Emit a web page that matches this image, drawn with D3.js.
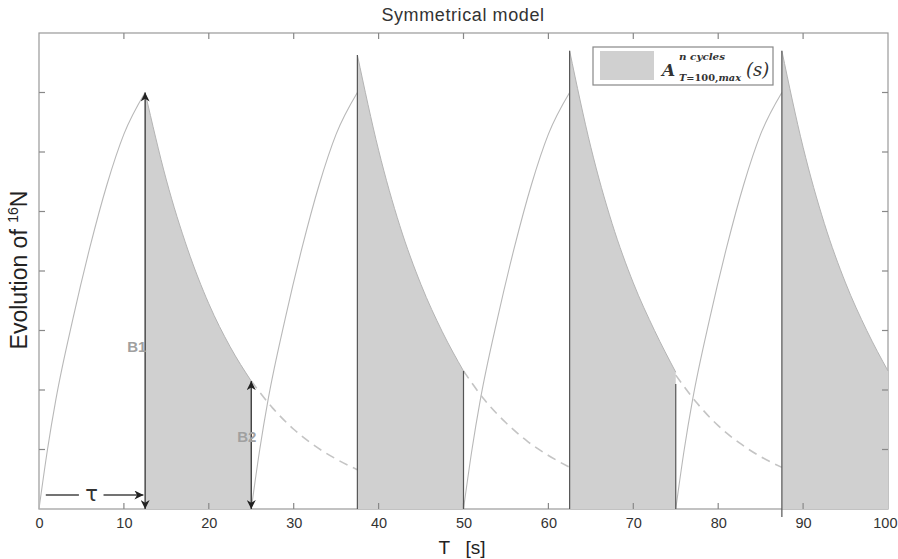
<!DOCTYPE html>
<html>
<head>
<meta charset="utf-8">
<script src="https://cdn.jsdelivr.net/npm/d3@7"></script>
<style>
  html, body { margin: 0; padding: 0; background: #fff; }
  svg { display: block; }
</style>
</head>
<body>
<svg id="chart" width="898" height="559"></svg>
<script>
// Axis ticks
const xTicks = [0, 10, 20, 30, 40, 50, 60, 70, 80, 90, 100];
const yTicks = [1, 2, 3, 4, 5, 6, 7];

// Cycle timing [s]
const cycleStarts = [0, 25, 50, 75];        // start of each irradiation phase
const decayStarts = [12.5, 37.5, 62.5, 87.5]; // start of each decay phase

// Irradiation (build-up) phase, time from cycle start
const chargeT = [0, 1, 2, 4, 6, 8, 10, 12.5];
const chargeV = [0, 1.0, 1.85, 3.2, 4.4, 5.45, 6.3, 7.0];

// Decay phase, time from decay start
const decayT = [0, 2.5, 5, 7.5, 10, 12.5];
const decayCycle1 = [7.00, 5.53, 4.37, 3.45, 2.73, 2.15];
const decayCycle2 = [7.63, 6.03, 4.76, 3.77, 2.98, 2.32];
const decayCycle3 = [7.70, 6.08, 4.80, 3.80, 3.00, 2.30];
const decayCycle4 = [7.70, 6.08, 4.80, 3.80, 3.00, 2.32];
const decayCycles = [decayCycle1, decayCycle2, decayCycle3, decayCycle4];

// Residual activity carried into the next cycle (dashed), time from cycle end
const tailT = [0, 2.5, 5, 7.5, 10, 12.5];
const tailStarts = [25, 50, 75];
const tailCycle1 = [2.15, 1.70, 1.34, 1.06, 0.84, 0.66];
const tailCycle2 = [2.32, 1.83, 1.45, 1.14, 0.90, 0.70];
const tailCycle3 = [2.25, 1.78, 1.40, 1.11, 0.88, 0.70];
const tails = [tailCycle1, tailCycle2, tailCycle3];

// Vertical markers at phase boundaries: [time, top value]
const markerT = [37.5, 50, 62.5, 75, 87.5];
const markerV = [7.63, 2.32, 7.70, 2.10, 7.70];

const svg = d3.select("#chart");
const m = { left: 39, right: 888, top: 33, bottom: 509 };

const x = d3.scaleLinear().domain([0, 100]).range([m.left, m.right]);
const y = d3.scaleLinear().domain([0, 8]).range([m.bottom, m.top]);

const font = "'Liberation Sans', Arial, sans-serif";

// Title
svg.append("text")
  .attr("x", 463).attr("y", 21)
  .attr("text-anchor", "middle")
  .attr("font-family", font).attr("font-size", 18).attr("letter-spacing", 0.6)
  .attr("fill", "#333")
  .text("Symmetrical model");

// Frame
svg.append("rect")
  .attr("x", m.left).attr("y", m.top)
  .attr("width", m.right - m.left).attr("height", m.bottom - m.top)
  .attr("fill", "none").attr("stroke", "#999").attr("stroke-width", 1.2);

// Shaded decay areas
const area = d3.area()
  .x(d => x(d[0])).y0(y(0)).y1(d => y(d[1]))
  .curve(d3.curveMonotoneX);
const edge = d3.line().x(d => x(d[0])).y(d => y(d[1])).curve(d3.curveMonotoneX);

decayCycles.forEach((vals, i) => {
  const pts = decayT.map((t, k) => [decayStarts[i] + t, vals[k]]);
  svg.append("path").attr("d", area(pts)).attr("fill", "#d0d0d0").attr("stroke", "none");
  svg.append("path").attr("d", edge(pts)).attr("fill", "none")
    .attr("stroke", "#b4b4b4").attr("stroke-width", 1);
});

// Axes (inward ticks on all four sides)
const tickLen = 6;
const bottomAxis = d3.axisBottom(x).tickValues(xTicks).tickSize(0).tickPadding(9);
const gb = svg.append("g").attr("transform", `translate(0,${m.bottom})`).call(bottomAxis);
gb.select(".domain").remove();
gb.selectAll("text").attr("font-family", font).attr("font-size", 14.5).attr("fill", "#333");
// keep the last label inside the drawing
gb.selectAll(".tick").filter(d => d === 100).select("text")
  .attr("text-anchor", "end").attr("x", 9);

const tickG = svg.append("g").attr("stroke", "#888").attr("stroke-width", 1.2);
xTicks.slice(1, -1).forEach(t => {
  tickG.append("line").attr("x1", x(t)).attr("x2", x(t)).attr("y1", m.bottom).attr("y2", m.bottom - tickLen);
  tickG.append("line").attr("x1", x(t)).attr("x2", x(t)).attr("y1", m.top).attr("y2", m.top + tickLen);
});
yTicks.forEach(v => {
  tickG.append("line").attr("x1", m.left).attr("x2", m.left + tickLen).attr("y1", y(v)).attr("y2", y(v));
  tickG.append("line").attr("x1", m.right).attr("x2", m.right - tickLen).attr("y1", y(v)).attr("y2", y(v));
});

// Build-up curves
const thin = d3.line().x(d => x(d[0])).y(d => y(d[1])).curve(d3.curveMonotoneX);
cycleStarts.forEach(s => {
  const pts = chargeT.map((t, k) => [s + t, chargeV[k]]);
  svg.append("path").attr("d", thin(pts)).attr("fill", "none")
    .attr("stroke", "#b8b8b8").attr("stroke-width", 1.1);
});

// Residual tails (dashed)
tails.forEach((vals, i) => {
  const pts = tailT.map((t, k) => [tailStarts[i] + t, vals[k]]);
  svg.append("path").attr("d", thin(pts)).attr("fill", "none")
    .attr("stroke", "#c4c4c4").attr("stroke-width", 1.6)
    .attr("stroke-dasharray", "9,6");
});

// Vertical boundary markers
markerT.forEach((t, i) => {
  svg.append("line")
    .attr("x1", x(t)).attr("x2", x(t))
    .attr("y1", y(0) + (t === 87.5 ? 8 : 0)).attr("y2", y(markerV[i]))
    .attr("stroke", "#555").attr("stroke-width", 1.2);
});

// Arrow markers
const defs = svg.append("defs");
defs.append("marker")
  .attr("id", "arrow").attr("viewBox", "0 0 10 10")
  .attr("refX", 10).attr("refY", 5)
  .attr("markerWidth", 9).attr("markerHeight", 9)
  .attr("markerUnits", "userSpaceOnUse")
  .attr("orient", "auto-start-reverse")
  .append("path").attr("d", "M0,0 L10,5 L0,10 L3,5 Z").attr("fill", "#222");

// B1 and B2 double arrows
const b1 = [12.5, 7.0];
const b2 = [25, 2.15];
[b1, b2].forEach(b => {
  svg.append("line")
    .attr("x1", x(b[0])).attr("x2", x(b[0]))
    .attr("y1", y(0)).attr("y2", y(b[1]))
    .attr("stroke", "#333").attr("stroke-width", 1.3)
    .attr("marker-start", "url(#arrow)").attr("marker-end", "url(#arrow)");
});
svg.append("text").attr("x", x(12.5) - 18).attr("y", 352)
  .attr("font-family", font).attr("font-size", 15).attr("font-weight", "bold")
  .attr("fill", "#a0a0a0").text("B1");
svg.append("text").attr("x", x(25) - 14).attr("y", 442)
  .attr("font-family", font).attr("font-size", 15).attr("font-weight", "bold")
  .attr("fill", "#a0a0a0").text("B2");

// τ annotation
const tauY = 495;
svg.append("line").attr("x1", x(0.8)).attr("x2", x(4.7)).attr("y1", tauY).attr("y2", tauY)
  .attr("stroke", "#444").attr("stroke-width", 1.3);
svg.append("text").attr("x", x(6.2)).attr("y", tauY + 6).attr("text-anchor", "middle")
  .attr("font-family", "'DejaVu Sans', sans-serif").attr("font-size", 21).attr("fill", "#333").text("τ");
svg.append("line").attr("x1", x(7.6)).attr("x2", x(12.3)).attr("y1", tauY).attr("y2", tauY)
  .attr("stroke", "#444").attr("stroke-width", 1.3).attr("marker-end", "url(#arrow)");

// Axis labels
svg.append("text")
  .attr("transform", `translate(27,270) rotate(-90)`)
  .attr("text-anchor", "middle")
  .attr("font-family", font).attr("font-size", 23).attr("fill", "#222")
  .call(t => {
    t.append("tspan").text("Evolution of ");
    t.append("tspan").attr("font-size", 14).attr("dy", -9).text("16");
    t.append("tspan").attr("dy", 9).text("N");
  });
svg.append("text").attr("x", 462).attr("y", 554).attr("text-anchor", "middle")
  .attr("font-family", font).attr("font-size", 19).attr("fill", "#222")
  .attr("xml:space", "preserve").text("T   [s]");

// Legend
const lg = svg.append("g");
lg.append("rect").attr("x", 593).attr("y", 47).attr("width", 180).attr("height", 38)
  .attr("fill", "#fff").attr("stroke", "#888").attr("stroke-width", 1.2);
lg.append("rect").attr("x", 600).attr("y", 51).attr("width", 54).attr("height", 29)
  .attr("fill", "#d0d0d0");
const serif = "'DejaVu Serif', 'Liberation Serif', serif";
lg.append("text").attr("x", 662).attr("y", 76)
  .attr("font-family", serif).attr("font-style", "italic").attr("font-weight", "bold")
  .attr("font-size", 17).attr("fill", "#333").text("A");
lg.append("text").attr("x", 679).attr("y", 60)
  .attr("font-family", serif).attr("font-style", "italic").attr("font-weight", "bold")
  .attr("font-size", 10).attr("fill", "#333")
  .attr("textLength", 46).attr("lengthAdjust", "spacingAndGlyphs")
  .text("n cycles");
lg.append("text").attr("x", 679).attr("y", 81)
  .attr("font-family", serif).attr("font-weight", "bold")
  .attr("font-size", 10).attr("fill", "#333")
  .attr("textLength", 62).attr("lengthAdjust", "spacingAndGlyphs")
  .call(t => {
    t.append("tspan").attr("font-style", "italic").text("T");
    t.append("tspan").text("=100,");
    t.append("tspan").attr("font-style", "italic").text("max");
  });
lg.append("text").attr("x", 746).attr("y", 76)
  .attr("font-family", serif).attr("font-style", "italic")
  .attr("font-size", 18).attr("fill", "#333").text("(s)");
</script>
</body>
</html>
